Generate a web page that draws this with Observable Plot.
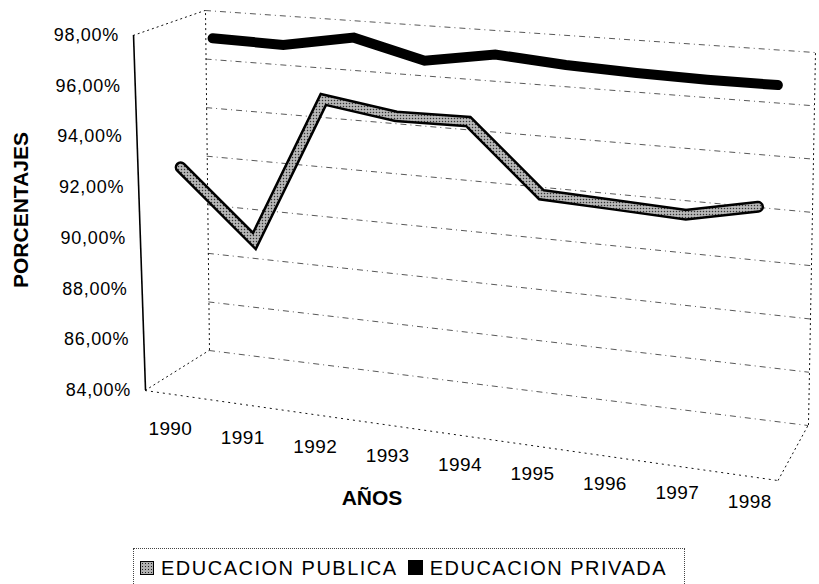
<!DOCTYPE html>
<html>
<head>
<meta charset="utf-8">
<script src="https://cdn.jsdelivr.net/npm/d3@7"></script>
<script src="https://cdn.jsdelivr.net/npm/@observablehq/plot@0.6"></script>
<style>
  html, body { margin: 0; padding: 0; background: #fff; }
  body { font-family: "Liberation Sans", Arial, sans-serif; color: #000; }
  #wrap { position: relative; width: 819px; height: 584px; overflow: hidden; }
  #chart svg { display: block; overflow: visible; }
  #legend {
    position: absolute; left: 133px; top: 548px; width: 552px; height: 44px;
    border-top: 1px dotted #444; border-left: 1px dotted #444; border-right: 1px dotted #444;
    box-sizing: border-box; display: flex; align-items: center; padding: 0 0 6px 6px;
    font-size: 20px; letter-spacing: 1.5px; line-height: 22px; white-space: nowrap;
  }
  .sw { display: inline-block; width: 14px; height: 14px; box-sizing: border-box; border: 1.5px solid #000; margin-right: 7px; }
  .sw.pub { background-color: #b0b0b0; background-image: radial-gradient(#222 35%, transparent 36%); background-size: 3px 3px; }
  .sw.priv { background: #000; margin-left: 10px; width: 15px; height: 15px; }
</style>
</head>
<body>
<div id="wrap">
  <div id="chart"></div>
  <div id="legend"></div>
</div>
<script>
// ---- data ----
const years = [1990, 1991, 1992, 1993, 1994, 1995, 1996, 1997, 1998];
const publica = [92.6, 90.0, 95.8, 95.4, 95.45, 92.95, 92.85, 92.75, 93.3];
const privada = [97.2, 97.15, 97.65, 96.95, 97.4, 97.2, 97.1, 97.05, 97.05];
const yTicks = [84, 86, 88, 90, 92, 94, 96, 98];
const yearLabels = years.map(String);
const seriesNames = ["EDUCACION PUBLICA", "EDUCACION PRIVADA"];
const yTitle = "PORCENTAJES";
const xTitle = "AÑOS";

const pubData = years.map((year, i) => ({year, value: publica[i]}));
const privData = years.map((year, i) => ({year, value: privada[i]}));

// extent of the floor along the category axis (in years)
const xMin = 1989.65, xMax = 1998.39;
// side edges of the box that run from front to back
const sideEdges = [{x: xMin, y: 84}, {x: xMax, y: 84}, {x: xMin, y: 98}];

const fmtPct = d => d.toFixed(2).replace(".", ",") + "%";

const chart = Plot.plot({
  width: 819,
  height: 540,
  marginLeft: 140,
  marginRight: 59,
  marginTop: 35,
  marginBottom: 150,
  style: {fontFamily: '"Liberation Sans", Arial, sans-serif', fontSize: "17px", background: "transparent", color: "#000"},
  x: {type: "linear", domain: [xMin, xMax], ticks: years, tickFormat: d => yearLabels[years.indexOf(d)], tickSize: 0, tickPadding: 30, label: xTitle, labelAnchor: "center"},
  y: {domain: [84, 98], ticks: yTicks, tickFormat: fmtPct, tickSize: 0, tickPadding: 16, label: yTitle, labelAnchor: "center"},
  marks: [
    // back wall gridlines (depth 1)
    Plot.ruleY(yTicks, {stroke: "#111", strokeWidth: 1, strokeDasharray: "6,4,1,4", strokeOpacity: 0.7}),
    // back wall sides (depth 1)
    Plot.ruleX([xMin, xMax], {y1: 84, y2: 98, stroke: "#111", strokeWidth: 1, strokeDasharray: "2,3"}),
    // side edges (front to back)
    Plot.ruleY(sideEdges, {y: "y", x1: "x", x2: "x", stroke: "#111", strokeWidth: 1, strokeDasharray: "2,3"}),
    // floor front edge (depth 0)
    Plot.ruleY([84], {stroke: "#111", strokeWidth: 1, strokeDasharray: "2,4"}),
    // value axis (depth 0)
    Plot.ruleX([xMin], {y1: 84, y2: 98, stroke: "#000", strokeWidth: 1.6}),
    // series
    Plot.line(privData, {x: "year", y: "value", stroke: "#000", strokeWidth: 10, strokeLinejoin: "miter", strokeMiterlimit: 4}),
    Plot.line(pubData, {x: "year", y: "value", stroke: "#000", strokeWidth: 12, strokeLinejoin: "miter", strokeMiterlimit: 4}),
    Plot.line(pubData, {x: "year", y: "value", stroke: "url(#pubPattern)", strokeWidth: 7, strokeLinejoin: "miter", strokeMiterlimit: 4})
  ]
});

document.getElementById("chart").append(chart);
const svg = chart.tagName.toLowerCase() === "svg" ? chart : chart.querySelector("svg");

svg.insertAdjacentHTML("afterbegin",
  '<defs><pattern id="pubPattern" width="3" height="3" patternUnits="userSpaceOnUse">' +
  '<rect width="3" height="3" fill="#b8b8b8"></rect><circle cx="1.5" cy="1.5" r="0.75" fill="#333"></circle></pattern></defs>');

// ---- oblique (3D-like) projection of the flat frame ----
const F = {LT: [133, 35], LB: [145, 390], RT: [776, 88], RB: [778, 480]};
const B = {LT: [205, 10], LB: [209, 350], RT: [815, 52], RB: [808, 425]};
function P(x, y, d) {
  const u = (x - 140) / 620, v = (y - 35) / 355;
  const bil = C => [0, 1].map(k => (1 - u) * ((1 - v) * C.LT[k] + v * C.LB[k]) + u * ((1 - v) * C.RT[k] + v * C.RB[k]));
  const f = bil(F), b = bil(B);
  return [f[0] * (1 - d) + b[0] * d, f[1] * (1 - d) + b[1] * d];
}
function gOffset(g) {
  const t = g.getAttribute("transform");
  if (!t) return [0, 0];
  const m = /translate\(\s*([-\d.e]+)(?:[ ,]+([-\d.e]+))?/.exec(t);
  return m ? [+m[1], +(m[2] || 0)] : [0, 0];
}
function remapLines(g, d1, d2) {
  const [ox, oy] = gOffset(g);
  g.removeAttribute("transform");
  g.querySelectorAll("line").forEach(l => {
    const a = P(+l.getAttribute("x1") + ox, +l.getAttribute("y1") + oy, d1);
    const b = P(+l.getAttribute("x2") + ox, +l.getAttribute("y2") + oy, d2);
    l.setAttribute("x1", a[0]); l.setAttribute("y1", a[1]);
    l.setAttribute("x2", b[0]); l.setAttribute("y2", b[1]);
  });
}
function remapPaths(g, depth) {
  const [ox, oy] = gOffset(g);
  g.removeAttribute("transform");
  const num = "(-?\\d*\\.?\\d+(?:e[-+]?\\d+)?)";
  const re = new RegExp(num + "[, ]" + num, "g");
  g.querySelectorAll("path").forEach(p => {
    const d = p.getAttribute("d");
    p.setAttribute("d", d.replace(re, (m, a, b) => {
      const q = P(+a + ox, +b + oy, depth);
      return q[0].toFixed(2) + "," + q[1].toFixed(2);
    }));
  });
}
const rules = svg.querySelectorAll('g[aria-label="rule"]');
remapLines(rules[0], 1, 1);
remapLines(rules[1], 1, 1);
remapLines(rules[2], 0, 1);
remapLines(rules[3], 0, 0);
remapLines(rules[4], 0, 0);
const lines = svg.querySelectorAll('g[aria-label="line"]');
remapPaths(lines[0], 0.75);
remapPaths(lines[1], 0.25);
remapPaths(lines[2], 0.25);

// ---- text placement ----
const sr = svg.getBoundingClientRect();
function moveTo(t, fn) {
  const r = t.getBoundingClientRect();
  const box = {left: r.left - sr.left, right: r.right - sr.left, cx: (r.left + r.right) / 2 - sr.left, cy: (r.top + r.bottom) / 2 - sr.top};
  const [dx, dy] = fn(box);
  const old = t.getAttribute("transform") || "";
  t.setAttribute("transform", `translate(${dx},${dy}) ${old}`);
}
const texts = Array.from(svg.querySelectorAll("text"));
texts.forEach(t => {
  const s = t.textContent;
  if (s.includes(yTitle)) {
    t.textContent = yTitle;
    t.setAttribute("font-weight", "bold"); t.setAttribute("font-size", "21");
  } else if (s.includes(xTitle)) {
    t.textContent = xTitle;
    t.setAttribute("font-weight", "bold"); t.setAttribute("font-size", "21");
  } else if (/^\d{4}$/.test(s)) {
    t.setAttribute("font-size", "19"); t.setAttribute("letter-spacing", "0.4");
  } else if (/%$/.test(s)) {
    t.setAttribute("font-size", "18"); t.setAttribute("letter-spacing", "0.7");
  }
});
texts.forEach(t => {
  const s = t.textContent;
  if (s === yTitle) {
    moveTo(t, b => [20 - b.cx, 210 - b.cy]);
  } else if (s === xTitle) {
    moveTo(t, b => [372 - b.cx, 497 - b.cy]);
  } else if (/^\d{4}$/.test(s)) {
    const yr = +s;
    const xb = 140 + (yr - xMin) / (xMax - xMin) * 620;
    const u = (xb - 140) / 620;
    const q = P(xb, 390, 0);
    moveTo(t, b => [q[0] - b.cx, q[1] + 35 - 10 * u - b.cy]);
  } else if (/%$/.test(s)) {
    const val = parseFloat(s.replace(",", "."));
    const v = (98 - val) / 14;
    const X = 133 + 12 * v - 14, Y = 35 + 355 * v;
    moveTo(t, b => [X - b.right, Y - b.cy]);
  }
});

// ---- legend ----
const legend = document.getElementById("legend");
const classes = ["pub", "priv"];
seriesNames.forEach((name, i) => {
  const sw = document.createElement("span");
  sw.className = "sw " + classes[i];
  const lab = document.createElement("span");
  lab.textContent = name;
  legend.append(sw, lab);
});
</script>
</body>
</html>
